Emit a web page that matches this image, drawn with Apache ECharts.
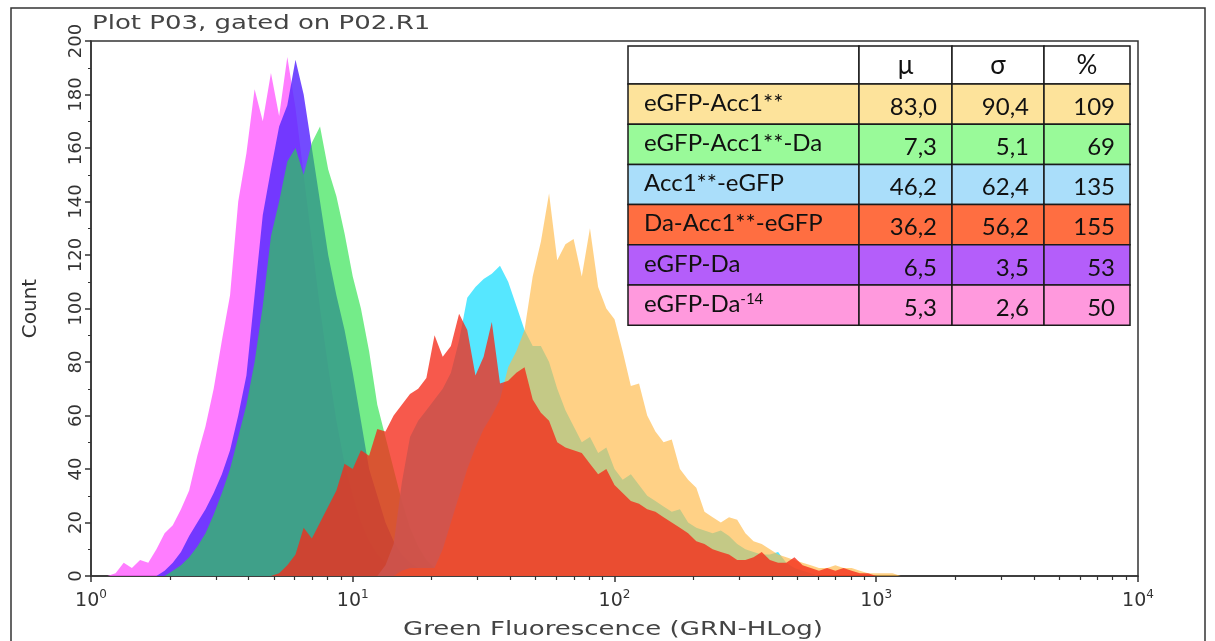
<!DOCTYPE html>
<html>
<head>
<meta charset="utf-8">
<title>Plot P03, gated on P02.R1</title>
<script src="https://cdn.jsdelivr.net/npm/echarts@6/dist/echarts.min.js"></script>
<style>
  html, body { margin: 0; padding: 0; background: #fff; }
  #chart { width: 1215px; height: 641px; }
</style>
</head>
<body>
<div id="chart"></div>
<script>
// FCS histogram overlay, 32 channels per decade, counts
const BINS_PER_DECADE = 32;

// eGFP-Da-14 (pink)
const pinkStart = 2;
const pinkCounts = [0, 1, 5, 3, 6, 5, 10, 16, 19, 25, 32, 45, 56, 70, 88, 105, 140, 158, 182, 170, 188, 172, 194, 175, 150, 125, 100, 78, 58, 42, 30, 20, 13, 8, 5, 3, 1, 0];

// eGFP-Da (purple)
const purpleStart = 8;
const purpleCounts = [0, 2, 5, 9, 15, 20, 25, 31, 38, 47, 60, 75, 105, 135, 152, 168, 176, 193, 180, 160, 140, 120, 105, 92, 76, 58, 40, 30, 20, 13, 8, 5, 3, 1, 0];

// eGFP-Acc1**-Da (green)
const greenStart = 9;
const greenCounts = [0, 2, 4, 7, 11, 16, 23, 31, 40, 52, 64, 80, 101, 127, 140, 155, 160, 150, 162, 168, 152, 142, 128, 112, 100, 84, 64, 52, 40, 28, 18, 11, 6, 3, 1, 0];

// Acc1**-eGFP (cyan)
const cyanStart = 35;
const cyanCounts = [0, 4, 12, 35, 52, 58, 62, 66, 70, 76, 88, 104, 108, 111, 113, 116, 110, 101, 92, 86, 86, 80, 70, 62, 56, 50, 52, 46, 48, 40, 36, 38, 34, 30, 28, 26, 24, 25, 20, 18, 17, 16, 17, 15, 12, 10, 9, 8, 8, 9, 5, 3, 2, 1, 0];

// eGFP-Acc1** (yellow)
const yellowStart = 37;
const yellowCounts = [0, 2, 3, 3, 3, 3, 10, 20, 30, 40, 48, 55, 60, 66, 78, 84, 92, 112, 125, 143, 118, 124, 126, 112, 130, 108, 100, 96, 84, 71, 72, 60, 54, 50, 51, 40, 36, 33, 24, 22, 20, 22, 21, 16, 13, 12, 10, 8, 7, 6, 5, 4, 3, 3, 4, 3, 3, 2, 1, 1, 1, 1, 0];

// Da-Acc1**-eGFP (red)
const redStart = 22;
const redCounts = [0, 1, 4, 8, 18, 14, 20, 26, 32, 42, 40, 47, 45, 55, 54, 60, 64, 68, 70, 74, 90, 82, 86, 98, 92, 75, 82, 95, 72, 73, 76, 78, 66, 61, 58, 50, 48, 47, 46, 42, 38, 40, 34, 31, 28, 27, 25, 24, 22, 20, 18, 16, 13, 12, 10, 9, 8, 6, 6, 7, 9, 6, 5, 5, 7, 4, 3, 2, 3, 2, 3, 2, 1, 1, 0];

const xTickValues = [1, 10, 100, 1000, 10000];
const xMinorTicks = [2, 3, 4, 5, 6, 7, 8, 9, 20, 30, 40, 50, 60, 70, 80, 90,
  200, 300, 400, 500, 600, 700, 800, 900, 2000, 3000, 4000, 5000, 6000, 7000, 8000, 9000];

const tableHeader = ['', 'μ', 'σ', '%'];
const tableNames = ['eGFP-Acc1**', 'eGFP-Acc1**-Da', 'Acc1**-eGFP', 'Da-Acc1**-eGFP', 'eGFP-Da', 'eGFP-Da{sup|-14}'];
const tableMu = ['83,0', '7,3', '46,2', '36,2', '6,5', '5,3'];
const tableSigma = ['90,4', '5,1', '62,4', '56,2', '3,5', '2,6'];
const tablePct = ['109', '69', '135', '155', '53', '50'];
const tableColors = ['#fde39b', '#99fa99', '#aadefa', '#ff6e41', '#b45efa', '#ff99dd'];

const toPoints = (startBin, counts) =>
  counts.map((c, i) => [Math.pow(10, (startBin + i) / BINS_PER_DECADE), c]);

// drawn bottom to top
const layers = [
  { name: 'eGFP-Da-14', start: pinkStart, counts: pinkCounts, color: '#ff66ff', opacity: 0.85 },
  { name: 'eGFP-Da', start: purpleStart, counts: purpleCounts, color: '#5a2cff', opacity: 0.85 },
  { name: 'eGFP-Acc1**-Da', start: greenStart, counts: greenCounts, color: '#1ee040', opacity: 0.62 },
  { name: 'Acc1**-eGFP', start: cyanStart, counts: cyanCounts, color: '#44e4ff', opacity: 0.9 },
  { name: 'eGFP-Acc1**', start: yellowStart, counts: yellowCounts, color: '#ffb845', opacity: 0.65 },
  { name: 'Da-Acc1**-eGFP', start: redStart, counts: redCounts, color: '#f52a1a', opacity: 0.78 }
];

const series = layers.map(l => ({
  name: l.name,
  type: 'line',
  data: toPoints(l.start, l.counts),
  showSymbol: false,
  symbol: 'none',
  silent: true,
  lineStyle: { width: 0 },
  areaStyle: { color: l.color, opacity: l.opacity }
}));

const axisFont = 'DejaVu Sans';
const tableFont = 'Lato';

// table overlay
const colEdges = [628, 859, 952, 1044, 1130];
const tableTop = 46;
const headerH = 38;
const rowH = 40.2;
const tableItems = [];

const cellRect = (x, y, w, h, fill) => ({
  type: 'rect',
  shape: { x: x, y: y, width: w, height: h },
  style: { fill: fill, stroke: '#1a1a1a', lineWidth: 1.5 },
  z: 100
});

const cellText = (text, x, y, align, size) => ({
  type: 'text',
  x: x,
  y: y,
  style: {
    text: text,
    fontFamily: tableFont,
    fontSize: size || 24,
    fill: '#111',
    align: align,
    verticalAlign: 'middle',
    rich: {
      sup: { fontFamily: tableFont, fontSize: 15, fill: '#111', verticalAlign: 'top', lineHeight: 14 }
    }
  },
  z: 101
});

for (let c = 0; c < 4; c++) {
  const x0 = colEdges[c], w = colEdges[c + 1] - colEdges[c];
  tableItems.push(cellRect(x0, tableTop, w, headerH, '#fff'));
  if (tableHeader[c]) tableItems.push(cellText(tableHeader[c], x0 + w / 2, tableTop + headerH / 2 + 1, 'center', 26));
}
tableNames.forEach((name, r) => {
  const y0 = tableTop + headerH + r * rowH;
  const vals = [tableMu[r], tableSigma[r], tablePct[r]];
  for (let c = 0; c < 4; c++) {
    const x0 = colEdges[c], w = colEdges[c + 1] - colEdges[c];
    tableItems.push(cellRect(x0, y0, w, rowH, tableColors[r]));
  }
  tableItems.push(cellText(name, colEdges[0] + 16, y0 + rowH / 2 - 1, 'left'));
  vals.forEach((v, i) => {
    tableItems.push(cellText(v, colEdges[i + 2] - 15, y0 + rowH / 2 + 3, 'right'));
  });
});

const chart = echarts.init(document.getElementById('chart'));

const option = {
  animation: false,
  backgroundColor: '#fff',
  grid: {
    left: 91, right: 77, top: 41, bottom: 65,
    show: true, borderColor: '#333', borderWidth: 1.5, backgroundColor: 'transparent'
  },
  xAxis: [
    {
      type: 'log',
      logBase: 10,
      min: 1,
      max: 10000,
      axisLine: { lineStyle: { color: '#333', width: 1.5 } },
      axisTick: { length: 6, customValues: xTickValues, lineStyle: { color: '#333', width: 1.5 } },
      axisLabel: {
        customValues: xTickValues,
        margin: 13,
        formatter: v => '{b|10}{s|' + Math.round(Math.log10(v)) + '}',
        rich: {
          b: { fontFamily: axisFont, fontSize: 19, color: '#333', lineHeight: 24 },
          s: { fontFamily: axisFont, fontSize: 12, color: '#333', lineHeight: 12, verticalAlign: 'top' }
        }
      },
      splitLine: { show: false }
    },
    {
      type: 'log',
      logBase: 10,
      min: 1,
      max: 10000,
      position: 'bottom',
      axisLine: { show: false },
      axisTick: { length: 4, customValues: xMinorTicks, lineStyle: { color: '#333', width: 1.2 } },
      axisLabel: { show: false },
      splitLine: { show: false }
    }
  ],
  yAxis: {
    type: 'value',
    min: 0,
    max: 200,
    interval: 20,
    name: 'Count',
    nameLocation: 'middle',
    nameRotate: 90,
    nameGap: 50,
    nameTextStyle: { fontFamily: axisFont, fontSize: 20, color: '#333' },
    axisLine: { show: true, lineStyle: { color: '#333', width: 1.5 } },
    axisTick: { show: true, length: 6, lineStyle: { color: '#333', width: 1.5 } },
    minorTick: { show: true, splitNumber: 2, length: 3, lineStyle: { color: '#333' } },
    axisLabel: { rotate: 90, fontFamily: axisFont, fontSize: 18, color: '#333', margin: 6 },
    splitLine: { show: false }
  },
  series: series,
  graphic: [
    {
      type: 'rect',
      shape: { x: 11, y: 8, width: 1194, height: 700 },
      style: { fill: 'none', stroke: '#333', lineWidth: 1.5 },
      silent: true
    },
    {
      type: 'text',
      x: 92,
      y: 24,
      scaleX: 1.3,
      style: {
        text: 'Plot P03, gated on P02.R1',
        fontFamily: axisFont, fontSize: 20, fill: '#444',
        align: 'left', verticalAlign: 'middle'
      }
    },
    {
      type: 'text',
      x: 613,
      y: 630,
      scaleX: 1.3,
      style: {
        text: 'Green Fluorescence (GRN-HLog)',
        fontFamily: axisFont, fontSize: 20, fill: '#444',
        align: 'center', verticalAlign: 'middle'
      }
    },
    ...tableItems
  ]
};

chart.setOption(option);
window.addEventListener('resize', () => chart.resize());
</script>
</body>
</html>
